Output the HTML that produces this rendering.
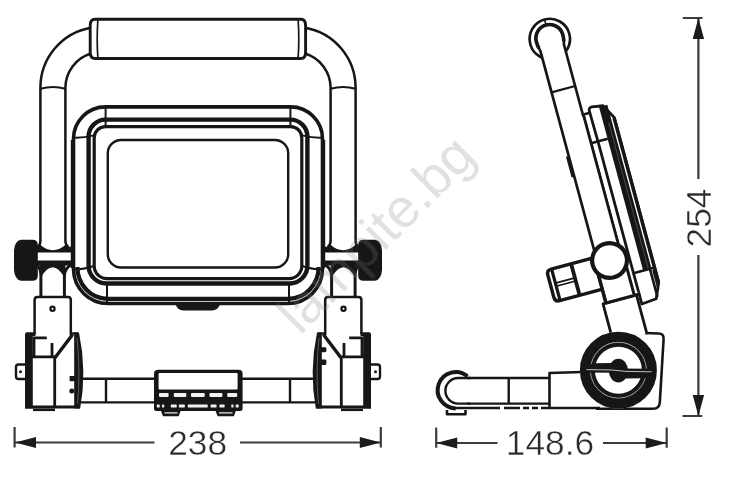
<!DOCTYPE html>
<html>
<head>
<meta charset="utf-8">
<title>Worklight dimensions</title>
<style>
html,body{margin:0;padding:0;background:#fff;}
body{width:746px;height:483px;overflow:hidden;font-family:"Liberation Sans",sans-serif;}
svg{display:block;position:absolute;left:0;top:0;opacity:0.999;will-change:transform;}
.k{stroke:#161616;fill:none;stroke-linecap:butt;stroke-linejoin:round;}
.w{fill:#fff;}
.b{fill:#161616;stroke:none;}
.d{stroke:#3c3c3c;stroke-width:2.2;fill:none;}
.a{fill:#1c1c1c;stroke:none;}
text{font-family:"Liberation Sans",sans-serif;fill:#2a2a2a;}
.t{stroke:#ffffff;stroke-width:0.45;}
</style>
</head>
<body>
<svg width="746" height="483" viewBox="0 0 746 483">
<rect x="0" y="0" width="746" height="483" fill="#ffffff"/>

<!-- ================= FRONT VIEW ================= -->
<g id="front">
<defs>
<g id="half">
  <!-- handle tube: arcs + straight -->
  <path class="k" stroke-width="2.5" d="M91,27.7 A61,61 0 0 0 40.4,87.8 L40.4,241 Q40.4,245 37.5,247"/>
  <path class="k" stroke-width="2.5" d="M91,53.5 A36,36 0 0 0 65.4,87.8 L65.4,241 Q65.4,245 68.5,247"/>
  <path class="k" stroke-width="2" d="M40.4,88.8 Q53,85 65.4,88.8"/>
  <!-- saddle over shaft + shaft -->
  <path class="b" d="M36,246.8 L39.2,246.8 L39.4,244 Q52.9,256.4 66.4,244 L66.6,246.8 L73,246.8 L73,252.4 L36,252.4 Z"/>
  <path class="k" stroke-width="5" d="M36,263.1 L73,263.1"/>
  <!-- knob -->
  <path class="b" d="M21,239.8 L32.5,239.8 Q37.8,239.8 37.8,245 L37.8,275.5 Q37.8,280.8 32.5,280.8 L21,280.8 Q14.6,279.5 14,270 L14,250.5 Q14.6,241 21,239.8 Z"/>
  <!-- neck under shaft -->
  <path class="k" stroke-width="3" d="M37.2,265 Q40.8,268.5 40.9,276 L40.9,297"/>
  <path class="k" stroke-width="3" d="M70.8,265 Q64.6,268.5 64.4,276 L64.4,297"/>
  <path class="b" d="M40,265 L65.4,265 L65.4,277.5 L64.4,277.5 Q52.6,257 40.9,277.5 L40,277.5 Z"/>
  <!-- bracket -->
  <path class="k" stroke-width="2.5" d="M34.6,334 L34.6,300 Q34.6,297 37.5,297 L68,297 Q70.8,297 70.8,300 L70.8,335"/>
  <circle class="k" stroke-width="2.2" cx="52.5" cy="308.8" r="2.1"/>
  <!-- hinge block -->
  <path class="b" d="M25,334.5 Q25,332.3 27,332.3 L35.5,332.3 L35.5,336 L32.8,336 L32.8,408.5 L25,408.5 Z"/>
  <path class="k" stroke-width="2.8" d="M33,337.8 L46.8,337.8 M34,337 L34,356 M52,343 L52,356 M32,356.8 L55,356.8 M54.7,356 L54.7,407"/>
  <path class="k" stroke-width="3.4" d="M72.6,334.5 L55,357.8"/>
  <path class="k" stroke-width="2.4" d="M70.8,333.5 L78,333.5"/>
  <path class="b" d="M74.2,332.6 L79,332.6 Q87,371 80.2,408.4 L74.2,408.4 Z"/>
  <path stroke="#8a8a8a" stroke-width="0.6" fill="none" d="M77,338 Q80.5,371 77.6,404"/>
  <path class="k" stroke-width="3" d="M25,407 L80,407"/>
  <path class="k" stroke-width="2.6" d="M33,409.8 L55,409.8"/>
  <!-- nub -->
  <path class="k" stroke-width="2.4" d="M25,364.5 L18.5,364.5 Q16,364.5 16,367 L16,376.5 Q16,379 18.5,379 L25,379"/>
  <circle class="b" cx="20.5" cy="371.7" r="1.5"/>
  <!-- base tube -->
  <path class="k" stroke-width="2.4" d="M82,378.8 L156,378.8 M81,402.4 L156,402.4 M106,378.8 L106,402.4"/>
  <!-- housing corner seams -->
  <path class="k" stroke-width="2" d="M105.6,106.9 L105.6,126.6 M73.5,137.6 Q82,138.2 94,135.4 M107,284 L107,304.5 M73.5,269.5 Q82,269.8 94,266"/>
</g>
</defs>
<use href="#half"/>
<path class="b" d="M69.6,376 L75,376 L75,381.2 L69.6,381.2 Z"/>
<circle class="b" cx="71.8" cy="391" r="2.5"/>
<path class="b" d="M321,347.2 L325,347.2 Q326.4,347.2 326.4,348.6 L326.4,350.8 Q326.4,352.2 325,352.2 L321,352.2 Z M321,359.6 L325,359.6 Q326.4,359.6 326.4,361 L326.4,363.6 Q326.4,365 325,365 L321,365 Z"/>
<use href="#half" transform="translate(396,0) scale(-1,1)"/>

<!-- grip -->
<path class="k w" stroke-width="2.9" d="M95,19.3 L301,19.3 Q305.6,19.3 305.6,25.5 L305.6,52.3 Q305.6,58.5 301,58.5 L95,58.5 Q90.2,58.5 90.2,52.3 L90.2,25.5 Q90.2,19.3 95,19.3 Z"/>
<path class="k" stroke-width="1.7" d="M97.9,19.5 Q96.5,39 97.9,58.2 M298.1,19.5 Q299.5,39 298.1,58.2"/>

<!-- housing -->
<path class="k" stroke-width="3.6" d="M105.5,106.9 L290.5,106.9 A32,32 0 0 1 322.5,138.9 L322.5,269 A34.6,34.6 0 0 1 287.9,303.5 L108.1,303.5 A34.6,34.6 0 0 1 73.5,269 L73.5,138.9 A32,32 0 0 1 105.5,106.9 Z"/>
<path class="k" stroke-width="1.6" d="M71.6,140 L71.6,268 M324.4,140 L324.4,268"/>
<path class="k" stroke-width="4.2" d="M77.4,267 A30,31.8 0 0 0 107.4,298.8 L288.6,298.8 A30,31.8 0 0 0 318.6,267"/>
<path class="k" stroke-width="4.4" d="M105.6,119.6 L290.4,119.6 A17,17 0 0 1 307.4,136.6 L307.4,265.5 A18,18 0 0 1 289.4,283.5 L106.6,283.5 A18,18 0 0 1 88.6,265.5 L88.6,136.6 A17,17 0 0 1 105.6,119.6 Z"/>
<path class="k" stroke-width="3.2" d="M105.5,126.6 L290.5,126.6 A11.3,11.3 0 0 1 301.8,137.9 L301.8,266 A12.6,12.6 0 0 1 289.2,278.6 L106.8,278.6 A12.6,12.6 0 0 1 94.2,266 L94.2,137.9 A11.3,11.3 0 0 1 105.5,126.6 Z"/>
<rect class="k" stroke-width="2.4" x="107.8" y="140" width="180.4" height="127.5" rx="13.3" ry="13.3"/>
<!-- bottom button -->
<path class="b" d="M175.5,304 L220,304 Q218,310.5 212,310.5 L183.5,310.5 Q177.5,310.5 175.5,304 Z"/>

<!-- center block -->
<path class="b" d="M154,374 Q154,369.8 158.2,369.8 L238.4,369.8 Q242.6,369.8 242.6,374 L242.6,408.5 Q242.6,411 240,411 L156.6,411 Q154,411 154,408.5 Z"/>
<rect x="158.6" y="373" width="79" height="16.6" rx="1" fill="#ffffff"/>
<rect x="159.0" y="392.9" width="9.6" height="4" rx="0.8" fill="#f2f2f2"/><rect x="173.8" y="392.9" width="12.5" height="4" rx="0.8" fill="#f2f2f2"/><rect x="191.0" y="392.9" width="13.7" height="4" rx="0.8" fill="#f2f2f2"/><rect x="209.5" y="392.9" width="12.9" height="4" rx="0.8" fill="#f2f2f2"/><rect x="227.2" y="392.9" width="10.0" height="4" rx="0.8" fill="#f2f2f2"/><rect x="156.8" y="404.6" width="2.9" height="3" rx="0.6" fill="#efefef"/><rect x="162.0" y="404.6" width="2.2" height="3" rx="0.6" fill="#efefef"/><rect x="170.8" y="404.6" width="5.9" height="3" rx="0.6" fill="#efefef"/><rect x="178.9" y="404.6" width="5.9" height="3" rx="0.6" fill="#efefef"/><rect x="187.8" y="404.6" width="19.9" height="3" rx="0.6" fill="#efefef"/><rect x="210.6" y="404.6" width="5.9" height="3" rx="0.6" fill="#efefef"/><rect x="219.5" y="404.6" width="5.1" height="3" rx="0.6" fill="#efefef"/><rect x="231.3" y="404.6" width="2.2" height="3" rx="0.6" fill="#efefef"/><rect x="235.7" y="404.6" width="3.0" height="3" rx="0.6" fill="#efefef"/>
<path class="b" d="M160.8,410.5 L180.8,410.5 L178.6,416.2 L163,416.2 Z M215.4,410.5 L236,410.5 L233.8,416.2 L217.6,416.2 Z"/>
<path stroke="#e8e8e8" stroke-width="1.2" fill="none" d="M164.5,412.9 L177.5,412.9 M219,412.9 L232.5,412.9"/>
</g>

<!-- ================= SIDE VIEW ================= -->
<g id="side">
<!-- base -->
<g id="sbase">
  <!-- rounded front end -->
  <path class="k" stroke-width="4" d="M467.5,376.2 A18.2,18.2 0 1 0 455.6,408.4"/>
  <path class="k" stroke-width="2.4" d="M470.5,378 L458.2,378 A12.8,12.8 0 0 0 458.2,403.6 L470.5,403.6"/>
  <path class="k" stroke-width="2.4" d="M467,378 L549.5,378 M467,403.6 L549.5,403.6 M508.7,378 L508.7,403.6"/>
  <path class="k" stroke-width="2.4" d="M452,408 L500,408 M504,408 L520,408 M523,408 L529,408 M532,408 L538,408 M541,408 L600,408"/>
  <path class="k" stroke-width="2.6" d="M447,410 L447,414.2 L465.5,414.2 L465.5,410"/>
  <!-- box -->
  <path class="k" stroke-width="2.6" d="M549.5,407.5 L549.5,373 L582,372"/>
  <!-- wheel housing -->
  <path class="k" stroke-width="2.6" d="M612,331.8 L658.6,333.5 Q663.9,333.7 663.6,339 L659.8,402.5 Q659.4,408.8 653,408.8 L596,408.8"/>
</g>
<!-- tilted assembly -->
<g transform="translate(549.8,39) rotate(-15.1)">
  <!-- grip -->
  <circle class="k w" stroke-width="2.7" cx="0" cy="0" r="20.2"/>
  <!-- lamp body -->
  <path class="k w" stroke-width="2.8" d="M19.8,248 L19.8,112 L19.4,80 Q19.4,76.4 23,76.6 L34,78.3 L41.8,92.5 L41.8,263.2 L35.1,278.5 L19.8,279.8 Z"/>
  <path class="k" stroke-width="2.6" d="M19.8,248 L41.8,248"/>
  <path class="k" stroke-width="8.6" d="M34.1,78.5 L34.1,248"/>
  <path stroke="#6a6a6a" stroke-width="0.6" fill="none" d="M35.2,96 L35.2,247"/>
  <path class="k" stroke-width="3.4" d="M41.5,93 L41.5,263"/>
  <path class="k" stroke-width="2.6" d="M36.8,248 L36.8,277"/>
  <path class="k" stroke-width="2" d="M39.6,250 L39.6,270"/>
  <!-- bracket strip + seam -->
  <path class="k" stroke-width="2.6" d="M12.8,81.6 L19.6,81.6 M12.7,82 L12.7,216 M12.7,111.3 L30,111.3"/>
  <!-- knob (side) -->
  <path class="k w" stroke-width="3.4" d="M-12.2,222.6 L-58.6,222.6 Q-63.4,222.6 -63.4,227.4 L-63.4,250.4 Q-63.4,255.2 -58.6,255.2 L-12.2,255.2"/>
  <path class="k" stroke-width="3.2" d="M-58.2,223 L-58.2,254.8"/>
  <path class="k" stroke-width="3.8" d="M-38,222.6 L-38,255.2"/>
  <path class="k" stroke-width="1.7" d="M-58.2,237.2 L-38,237.2 M-58.2,240.4 L-38,240.4"/>
  <!-- lower arm -->
  <path class="k w" stroke-width="2.8" d="M-17.6,306 L-17.6,269.6 L17,269.6 L17,310.5"/>
  <!-- bracket below joint -->
  <path class="k w" stroke-width="3" d="M-14.4,238 L-14.4,269.6 L21,269.6 M14.8,269.6 L14.8,240"/>
  <path class="k" stroke-width="3.4" d="M-14.6,238 L-14.6,269"/>
  <!-- tube -->
  <path class="k w" stroke-width="2.7" d="M-12.2,232 L-12.2,9 C-13.4,5 -13.7,2 -13.7,-0.8 A13.7,13.7 0 0 1 13.7,-0.8 C13.7,2 13.4,5 12.2,9 L12.2,82 L12.7,84 L12.7,232 Z"/>
  <path class="k" stroke-width="3.6" d="M-13,6 C-13.5,3.5 -13.7,1.5 -13.7,-0.8 A13.7,13.7 0 0 1 13.7,-0.8 C13.7,1.5 13.5,3.5 13,6"/>
  <path class="k" stroke-width="1.6" d="M0,-15 L0,-19.5"/>
  <path class="k" stroke-width="2.2" d="M-12.2,52 L12.2,52"/>
  <path class="k" stroke-width="3.4" d="M-13.4,118 L-13.4,139.5"/>
  <!-- joint -->
  <circle class="k w" stroke-width="4.2" cx="0" cy="229.4" r="17.4"/>
</g>
<!-- wheel -->
<g id="wheel">
  <circle class="w" cx="618.4" cy="370.2" r="38.4"/>
  <circle class="k" stroke-width="10.4" cx="618.4" cy="370.2" r="33.3"/>
  <circle class="k" stroke-width="4.2" cx="618.4" cy="370.2" r="25.6"/>
  <circle stroke="#8a8a8a" stroke-width="0.6" fill="none" cx="618.4" cy="370.2" r="27.95"/>
  <ellipse class="b" cx="618.4" cy="370.6" rx="9.6" ry="11.8"/>
  <path class="b" d="M585,372.6 L585,369 L587,366.5 Q589.5,363.4 595,363.2 L612,363 L618,372.8 Z"/>
  <path class="b" d="M652.4,368.8 L652.4,372.4 L650.4,375 Q648,378 642.5,378.2 L625.5,378.4 L619.5,368.6 Z"/>
  <path stroke="#d4d4d4" stroke-width="0.9" fill="none" d="M586.5,369.6 L612,370 L626,371.4 L651.5,371.8"/>
</g>
</g>

<!-- ================= DIMENSIONS ================= -->
<g id="dims">
<!-- 238 -->
<path class="d" d="M14.6,427 L14.6,447.5 M380.8,427 L380.8,447.5 M14.6,442.5 L154.5,442.5 M240,442.5 L380.8,442.5"/>
<path class="a" d="M15,442.5 L36,437 L36,448 Z M380.8,442.5 L359.8,437 L359.8,448 Z"/>
<text class="t" x="197.6" y="455.3" font-size="35.3" text-anchor="middle">238</text>
<!-- 148.6 -->
<path class="d" d="M436.2,427.5 L436.2,447.8 M666.7,427.5 L666.7,447.8 M436.2,443 L497.5,443 M603,443 L666.7,443"/>
<path class="a" d="M436.2,443 L457.2,437.5 L457.2,448.5 Z M666.7,443 L645.7,437.5 L645.7,448.5 Z"/>
<text class="t" x="550" y="455.3" font-size="35.3" text-anchor="middle">148.6</text>
<!-- 254 -->
<path class="d" d="M682.8,18 L702.5,18 M682.5,416 L702.3,416 M698.4,18 L698.4,179 M698.4,255 L698.4,416"/>
<path class="a" d="M698.4,18 L692.7,39 L704.1,39 Z M698.4,416 L692.7,395 L704.1,395 Z"/>
<text class="t" x="0" y="0" transform="translate(711.2,218) rotate(-90)" font-size="35.3" text-anchor="middle">254</text>
</g>
<!-- watermark -->
<g id="wm">
<text x="0" y="0" transform="translate(300,336) rotate(-45)" font-size="54.5" style="fill:rgba(125,125,125,0.23)">lampite.bg</text>
</g>
</svg>
</body>
</html>
